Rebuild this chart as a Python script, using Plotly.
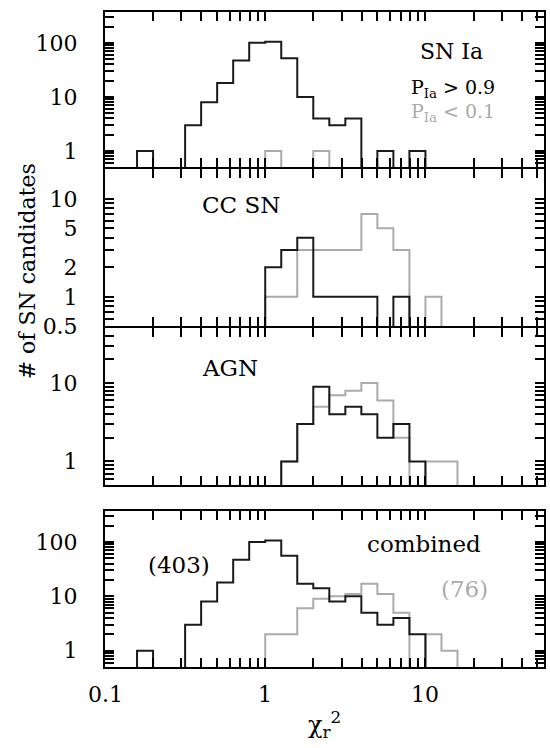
import math
import plotly.graph_objects as go

# ---------------- data ----------------
# histogram bin edges in log10(chi_r^2)
log_edges = [-0.8, -0.7, -0.6, -0.5, -0.4, -0.3, -0.2, -0.1, 0.0, 0.1, 0.2,
             0.3, 0.4, 0.5, 0.6, 0.7, 0.8, 0.9, 1.0, 1.1, 1.2]

# counts per bin (20 bins); "hi" = P_Ia > 0.9 (black), "lo" = P_Ia < 0.1 (gray)
snia_hi = [1, 0, 0, 3, 8, 18, 47, 100, 105, 52, 10, 4, 3, 4, 0, 1, 0, 1, 0, 0]
snia_lo = [0, 0, 0, 0, 0, 0, 0, 0, 1, 0, 0, 1, 0, 0, 0, 0, 0, 0, 0, 0]
ccsn_hi = [0, 0, 0, 0, 0, 0, 0, 0, 2, 3, 4, 1, 1, 1, 1, 0, 1, 0, 0, 0]
ccsn_lo = [0, 0, 0, 0, 0, 0, 0, 0, 1, 1, 3, 3, 3, 3, 7, 5, 3, 0, 1, 0]
agn_hi = [0, 0, 0, 0, 0, 0, 0, 0, 0, 1, 3, 9, 4, 5, 4, 2, 3, 1, 0, 0]
agn_lo = [0, 0, 0, 0, 0, 0, 0, 0, 0, 1, 3, 5, 7, 8, 10, 6, 2, 0, 1, 1]

panel_labels = ["SN Ia", "CC SN", "AGN", "combined"]
x_tickvals = [0.1, 1, 10]
x_ticktext = ["0.1", "1", "10"]
y_tickvals = [[1, 10, 100], [0.5, 1, 2, 5, 10], [1, 10], [1, 10, 100]]
y_ticktext = [["1", "10", "100"], ["0.5", "1", "2", "5", "10"], ["1", "10"],
              ["1", "10", "100"]]
n_hi = 403
n_lo = 76

comb_hi = [a + b + c for a, b, c in zip(snia_hi, ccsn_hi, agn_hi)]
comb_lo = [a + b + c for a, b, c in zip(snia_lo, ccsn_lo, agn_lo)]

series = [(snia_hi, snia_lo), (ccsn_hi, ccsn_lo), (agn_hi, agn_lo),
          (comb_hi, comb_lo)]

# ---------------- layout geometry ----------------
W, H = 550, 748
L, R, T, B = 105, 4, 12, 81
PW, PH = W - L - R, H - T - B


def yp(p):
    return (H - B - p) / PH


def xp(p):
    return (p - L) / PW


# frame-line centres of each panel (top, bottom) in pixels; domains sit 1px inside
panel_px = [(11, 168.3), (168.3, 327.3), (327.3, 486), (510, 668)]
y_ranges = [[-0.301, 2.57], [-0.301, 1.301], [-0.301, 1.699], [-0.301, 2.57]]
x_range = [-1, 1.74]

BLACK = "black"
LINE = "#1a1a1a"
GRAY = "#ababab"
FONT = "DejaVu Serif"
TICKSIZE = 22
NBSP = "\u00a0"

x_minor = [round(v * d, 6) for d in (0.1, 1, 10) for v in range(2, 10) if v * d <= 55]


def y_minor(rng, majors):
    lo, hi = 10 ** rng[0], 10 ** rng[1]
    vals = []
    for d in (0.1, 1, 10, 100):
        for v in range(1, 10):
            val = round(v * d, 6)
            if lo - 1e-9 <= val <= hi + 1e-9 and val not in majors:
                vals.append(val)
    return vals


FLOOR = 1e-3


def step_xy(counts):
    xs = [10 ** log_edges[0]] + [10 ** e for e in log_edges]
    ys = [FLOOR] + [c if c > 0 else FLOOR for c in counts] + [FLOOR]
    return xs, ys


fig = go.Figure()

for i, (hi, lo) in enumerate(series):
    k = i + 1
    for counts, col in ((lo, GRAY), (hi, LINE)):
        xs, ys = step_xy(counts)
        fig.add_trace(go.Scatter(
            x=xs, y=ys, mode="lines", line=dict(color=col, width=2, shape="hv"),
            xaxis=f"x{k}", yaxis=f"y{k}", showlegend=False, hoverinfo="skip"))

    top, bot = panel_px[i]
    dom = [max(0.0, yp(bot - 1)), min(1.0, yp(top + 1))]

    xt = x_tickvals + x_minor
    yt_minor = y_minor(y_ranges[i], y_tickvals[i])
    yt = y_tickvals[i] + yt_minor
    ytxt = [t + NBSP * 3 for t in y_ticktext[i]] + [""] * len(yt_minor)

    xa = dict(type="log", range=x_range, domain=[0, 1], anchor=f"y{k}",
              tickvals=xt, ticktext=[""] * len(xt), ticks="inside", ticklen=9,
              tickwidth=2, tickcolor="black", showline=True, linewidth=2,
              linecolor="black", mirror="allticks", showgrid=False, zeroline=False,
              showticklabels=False)
    ya = dict(type="log", range=y_ranges[i], domain=dom, anchor=f"x{k}",
              tickvals=yt, ticktext=ytxt, ticks="inside", ticklen=9, tickwidth=2,
              tickcolor="black", showline=True, linewidth=2, linecolor="black",
              mirror="allticks", showgrid=False, zeroline=False,
              tickfont=dict(family=FONT, size=TICKSIZE, color=BLACK))
    fig.layout[f"xaxis{k}" if k > 1 else "xaxis"] = xa
    fig.layout[f"yaxis{k}" if k > 1 else "yaxis"] = ya

ann = []


def add_text(text, x, y, size, color=BLACK, xanchor="left", angle=0):
    ann.append(dict(text=text, x=xp(x), y=yp(y), xref="paper", yref="paper",
                    showarrow=False, xanchor=xanchor, yanchor="middle", textangle=angle,
                    font=dict(family=FONT, size=size, color=color)))


# x tick labels of the bottom panel, placed through the bottom x axis scale
for v, t in zip(x_tickvals, x_ticktext):
    ann.append(dict(text=t, x=math.log10(v), y=yp(694), xref="x4", yref="paper",
                    showarrow=False, xanchor="center", yanchor="middle",
                    font=dict(family=FONT, size=TICKSIZE, color=BLACK)))

add_text(panel_labels[0], 419, 52, 22)
add_text("P<sub>Ia</sub> > 0.9", 410, 88, 19)
add_text("P<sub>Ia</sub> < 0.1", 410, 112, 19, color=GRAY)
add_text(panel_labels[1], 200, 205, 23)
add_text(panel_labels[2], 200, 368, 23)
add_text(panel_labels[3], 366, 544, 23)
add_text(f"({n_hi})", 146, 565, 23)
add_text(f"({n_lo})", 441, 589, 23, color=GRAY)
add_text("# of SN candidates", 27, 271, 22, xanchor="center", angle=-90)
add_text("χ<sub>r</sub><sup>2</sup>", 325, 724, 24, xanchor="center")

fig.update_layout(
    width=W, height=H, margin=dict(l=L, r=R, t=T, b=B, pad=0),
    paper_bgcolor="white", plot_bgcolor="white", annotations=ann,
)

fig.write_html("out.html", config={"displayModeBar": False},
               post_script="document.body.style.margin='0';"
                           "document.body.style.overflow='hidden';")
